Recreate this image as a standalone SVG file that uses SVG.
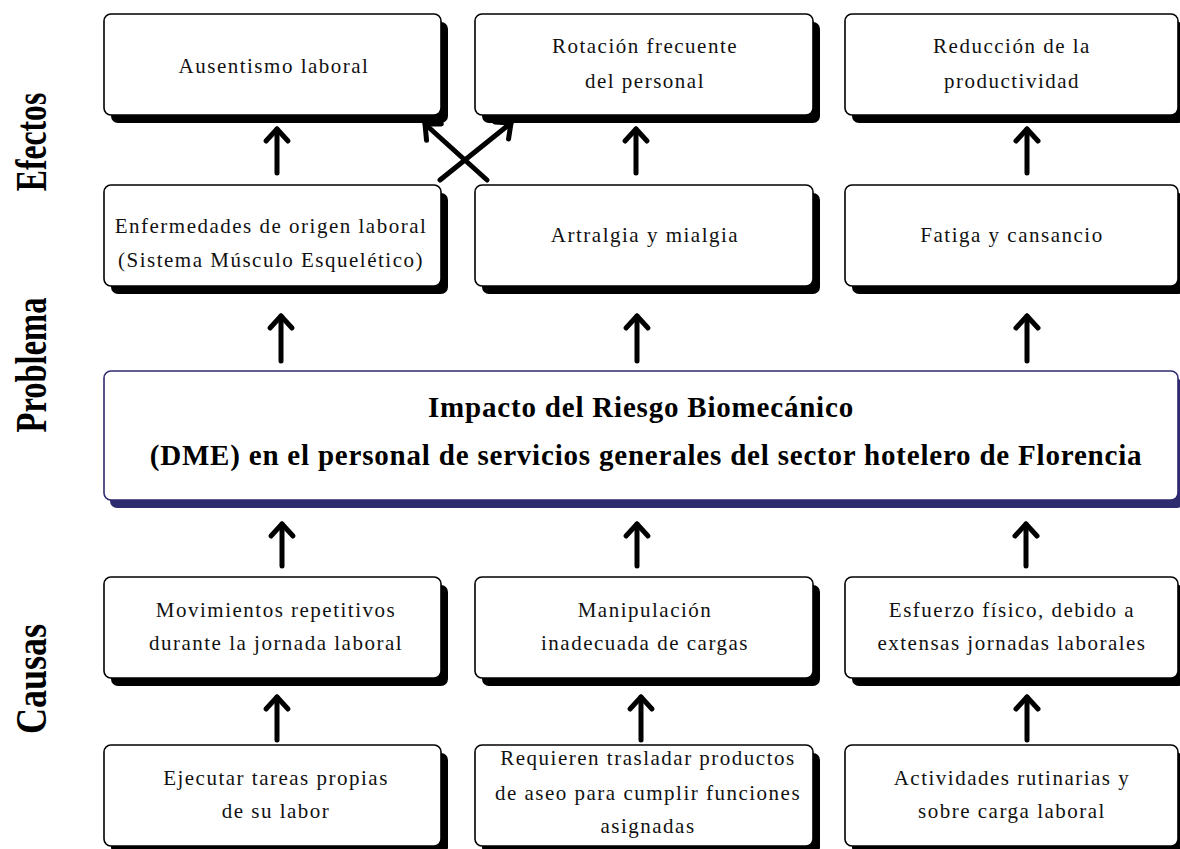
<svg xmlns="http://www.w3.org/2000/svg" width="1180" height="849" viewBox="0 0 1180 849">
<defs>
<style>
.bx{fill:#fff;stroke:#000;stroke-width:1.6}
.sh{fill:#000}
.pbx{fill:#fff;stroke:#2e2b6e;stroke-width:1.6}
.psh{fill:#2e2b6e}
.t{font-family:"Liberation Serif","Times New Roman",serif;font-size:21px;letter-spacing:1.5px;fill:#111;text-anchor:middle}
.pt{font-family:"Liberation Serif","Times New Roman",serif;font-size:29px;font-weight:bold;letter-spacing:0.8px;fill:#000;text-anchor:middle}
.lab{font-family:"Liberation Serif","Times New Roman",serif;font-size:44px;font-weight:bold;fill:#000;text-anchor:middle}
.ar{fill:none;stroke:#000;stroke-width:5;stroke-linecap:round;stroke-linejoin:round}
</style>
<marker id="ah" markerUnits="userSpaceOnUse" markerWidth="40" markerHeight="40" refX="0" refY="0" viewBox="-20 -20 40 40" orient="auto" overflow="visible">
<path d="M-12,-11 L0,0 L-12,11" fill="none" stroke="#000" stroke-width="5" stroke-linecap="round" stroke-linejoin="round"/>
</marker>
</defs>
<rect width="1180" height="849" fill="#fff"/>

<g id="labels">
<text class="lab" transform="translate(46,142) rotate(-90) scale(0.72,1)">Efectos</text>
<text class="lab" transform="translate(46,365) rotate(-90) scale(0.74,1)">Problema</text>
<text class="lab" transform="translate(46,679) rotate(-90) scale(0.82,1)">Causas</text>
</g>

<g id="e1">
<rect class="sh" x="111" y="22" width="337" height="101" rx="7"/>
<rect class="bx" x="104" y="14" width="337" height="101" rx="7"/>
<text class="t" x="274" y="73">Ausentismo laboral</text>
</g>
<g id="e2">
<rect class="sh" x="482" y="22" width="338" height="101" rx="7"/>
<rect class="bx" x="475" y="14" width="338" height="101" rx="7"/>
<text class="t" x="645" y="53">Rotación frecuente</text>
<text class="t" x="645" y="88">del personal</text>
</g>
<g id="e3">
<rect class="sh" x="852" y="22" width="333" height="101" rx="7"/>
<rect class="bx" x="845" y="14" width="333" height="101" rx="7"/>
<text class="t" x="1012" y="53">Reducción de la</text>
<text class="t" x="1012" y="88">productividad</text>
</g>

<g id="m1">
<rect class="sh" x="111" y="193" width="337" height="101" rx="7"/>
<rect class="bx" x="104" y="185" width="337" height="101" rx="7"/>
<text class="t" x="271" y="233">Enfermedades de origen laboral</text>
<text class="t" x="271" y="267">(Sistema Músculo Esquelético)</text>
</g>
<g id="m2">
<rect class="sh" x="482" y="193" width="338" height="101" rx="7"/>
<rect class="bx" x="475" y="185" width="338" height="101" rx="7"/>
<text class="t" x="645" y="242">Artralgia y mialgia</text>
</g>
<g id="m3">
<rect class="sh" x="852" y="193" width="333" height="101" rx="7"/>
<rect class="bx" x="845" y="185" width="333" height="101" rx="7"/>
<text class="t" x="1012" y="242">Fatiga y cansancio</text>
</g>

<g id="problema">
<rect class="psh" x="110" y="379" width="1074" height="129" rx="7"/>
<rect class="pbx" x="104" y="371" width="1074" height="129" rx="7"/>
<text class="pt" x="641" y="417">Impacto del Riesgo Biomecánico</text>
<text class="pt" x="646" y="465">(DME) en el personal de servicios generales del sector hotelero de Florencia</text>
</g>

<g id="c1">
<rect class="sh" x="111" y="585" width="337" height="101" rx="7"/>
<rect class="bx" x="104" y="577" width="337" height="101" rx="7"/>
<text class="t" x="276" y="617">Movimientos repetitivos</text>
<text class="t" x="276" y="650">durante la jornada laboral</text>
</g>
<g id="c2">
<rect class="sh" x="482" y="585" width="338" height="101" rx="7"/>
<rect class="bx" x="475" y="577" width="338" height="101" rx="7"/>
<text class="t" x="645" y="617">Manipulación</text>
<text class="t" x="645" y="650">inadecuada de cargas</text>
</g>
<g id="c3">
<rect class="sh" x="852" y="585" width="333" height="101" rx="7"/>
<rect class="bx" x="845" y="577" width="333" height="101" rx="7"/>
<text class="t" x="1012" y="617">Esfuerzo físico, debido a</text>
<text class="t" x="1012" y="650">extensas jornadas laborales</text>
</g>

<g id="b1">
<rect class="sh" x="111" y="753" width="337" height="101" rx="7"/>
<rect class="bx" x="104" y="745" width="337" height="101" rx="7"/>
<text class="t" x="276" y="785">Ejecutar tareas propias</text>
<text class="t" x="276" y="818">de su labor</text>
</g>
<g id="b2">
<rect class="sh" x="482" y="753" width="338" height="101" rx="7"/>
<rect class="bx" x="475" y="745" width="338" height="101" rx="7"/>
<text class="t" x="648" y="765">Requieren trasladar productos</text>
<text class="t" x="648" y="800">de aseo para cumplir funciones</text>
<text class="t" x="648" y="833">asignadas</text>
</g>
<g id="b3">
<rect class="sh" x="852" y="753" width="333" height="101" rx="7"/>
<rect class="bx" x="845" y="745" width="333" height="101" rx="7"/>
<text class="t" x="1012" y="785">Actividades rutinarias y</text>
<text class="t" x="1012" y="818">sobre carga laboral</text>
</g>

<g id="connectors">
<path class="ar" marker-end="url(#ah)" d="M277,173 L277,129"/>
<path class="ar" marker-end="url(#ah)" d="M636,173 L636,129"/>
<path class="ar" marker-end="url(#ah)" d="M1027,173 L1027,129"/>
<path class="ar" marker-end="url(#ah)" d="M440,180 L511,123"/>
<path class="ar" marker-end="url(#ah)" d="M487,180 L425,124"/>
<path class="ar" marker-end="url(#ah)" d="M281,361 L281,316"/>
<path class="ar" marker-end="url(#ah)" d="M637,361 L637,316"/>
<path class="ar" marker-end="url(#ah)" d="M1027,361 L1027,316"/>
<path class="ar" marker-end="url(#ah)" d="M282,566 L282,524"/>
<path class="ar" marker-end="url(#ah)" d="M637,566 L637,524"/>
<path class="ar" marker-end="url(#ah)" d="M1026,566 L1026,524"/>
<path class="ar" marker-end="url(#ah)" d="M277,740 L277,697"/>
<path class="ar" marker-end="url(#ah)" d="M641,740 L641,697"/>
<path class="ar" marker-end="url(#ah)" d="M1027,740 L1027,697"/>
</g>
</svg>
